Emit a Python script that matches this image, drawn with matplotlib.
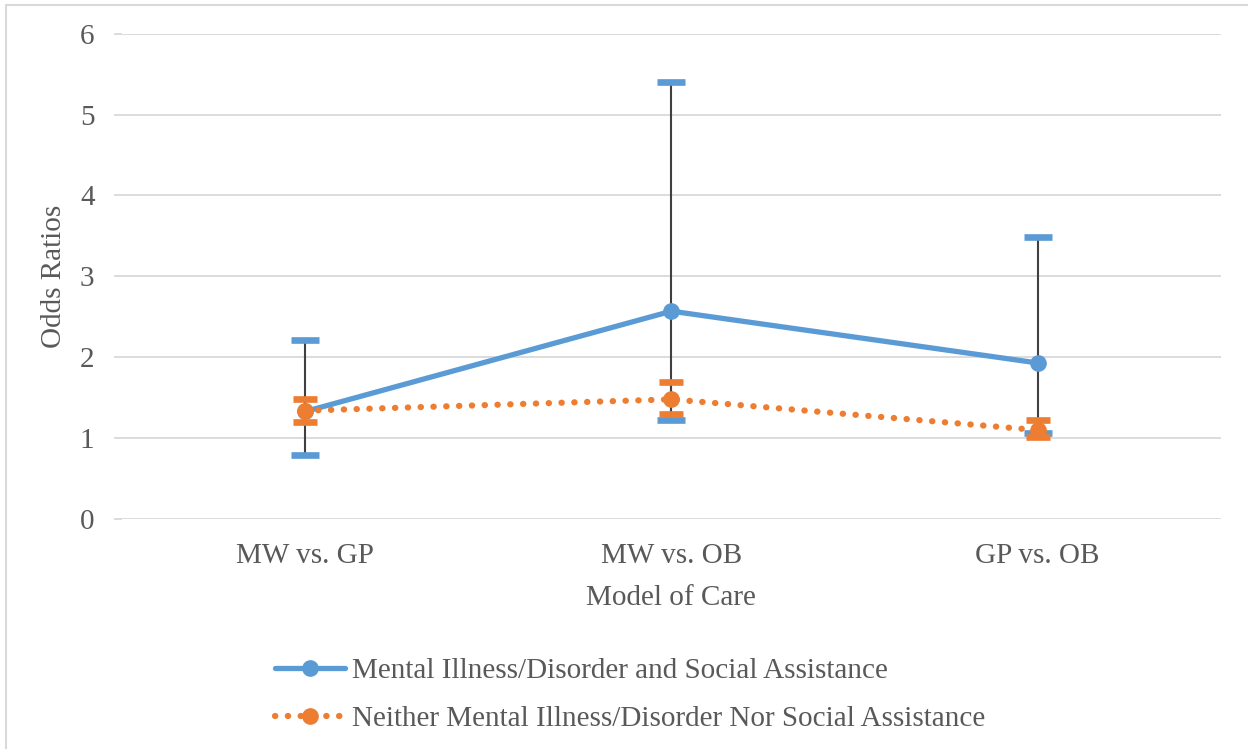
import matplotlib.pyplot as plt
from matplotlib.patches import Rectangle

categories = ["MW vs. GP", "MW vs. OB", "GP vs. OB"]

both_or = [1.33, 2.57, 1.93]
both_lo = [0.79, 1.22, 1.07]
both_hi = [2.21, 5.40, 3.49]

neither_or = [1.34, 1.48, 1.10]
neither_lo = [1.20, 1.30, 1.02]
neither_hi = [1.48, 1.69, 1.22]

label_both = "Mental Illness/Disorder and Social Assistance"
label_neither = "Neither Mental Illness/Disorder Nor Social Assistance"

BLUE = "#5B9BD5"
ORANGE = "#ED7D31"
TEXT = "#595959"
FS = 21

plt.rcParams["font.family"] = ["Liberation Serif", "DejaVu Serif"]

fig = plt.figure(figsize=(12.48, 7.49), dpi=100)
ax = fig.add_axes([0.098, 0.307, 0.88, 0.648])

x = list(range(len(categories)))

# error bars: dark stem, coloured caps
for val, lo, hi, color, cap in [
    (both_or, both_lo, both_hi, BLUE, 10),
    (neither_or, neither_lo, neither_hi, ORANGE, 8.5),
]:
    err = [[v - l for v, l in zip(val, lo)], [h - v for v, h in zip(val, hi)]]
    eb = ax.errorbar(x, val, yerr=err, fmt="none", ecolor="#404040",
                     elinewidth=1.5, capsize=cap, capthick=4.8, zorder=3)
    for c in eb[1]:
        c.set_markeredgecolor(color)
        c.set_markerfacecolor(color)

ax.plot(x, both_or, color=BLUE, lw=3.8, marker="o", markersize=11,
        solid_capstyle="round", label=label_both, zorder=4)
ax.plot(x, neither_or, color=ORANGE, lw=4.5, linestyle=(0, (0.05, 2.0)),
        dash_capstyle="round", marker="o", markersize=11,
        label=label_neither, zorder=4)

ax.set_xlim(-0.5, 2.5)
ax.set_ylim(0, 6)
ax.set_yticks(range(7))
ax.set_xticks(x)
ax.set_xticklabels(categories)
ax.grid(axis="y", color="#D9D9D9", lw=1.3)
ax.set_axisbelow(True)
for s in ax.spines.values():
    s.set_visible(False)
ax.tick_params(axis="y", length=6, color="#D9D9D9", width=1.3,
               labelsize=FS, labelcolor=TEXT, pad=14)
ax.tick_params(axis="x", length=0, labelsize=FS, labelcolor=TEXT, pad=17)

ax.set_xlabel("Model of Care", fontsize=FS, color=TEXT, labelpad=12)
ax.set_ylabel("Odds Ratios", fontsize=FS, color=TEXT, labelpad=9)

fig.legend(loc="center left", bbox_to_anchor=(0.211, 0.072),
           frameon=False, fontsize=FS, labelcolor=TEXT, handlelength=2.4,
           handletextpad=0.25, labelspacing=0.75, borderaxespad=0)

fig.patches.append(Rectangle((0.005, -0.01), 1.2, 1.003, transform=fig.transFigure,
                             fill=False, edgecolor="#D9D9D9", lw=1.5))

fig.savefig("out.png", dpi=100)
